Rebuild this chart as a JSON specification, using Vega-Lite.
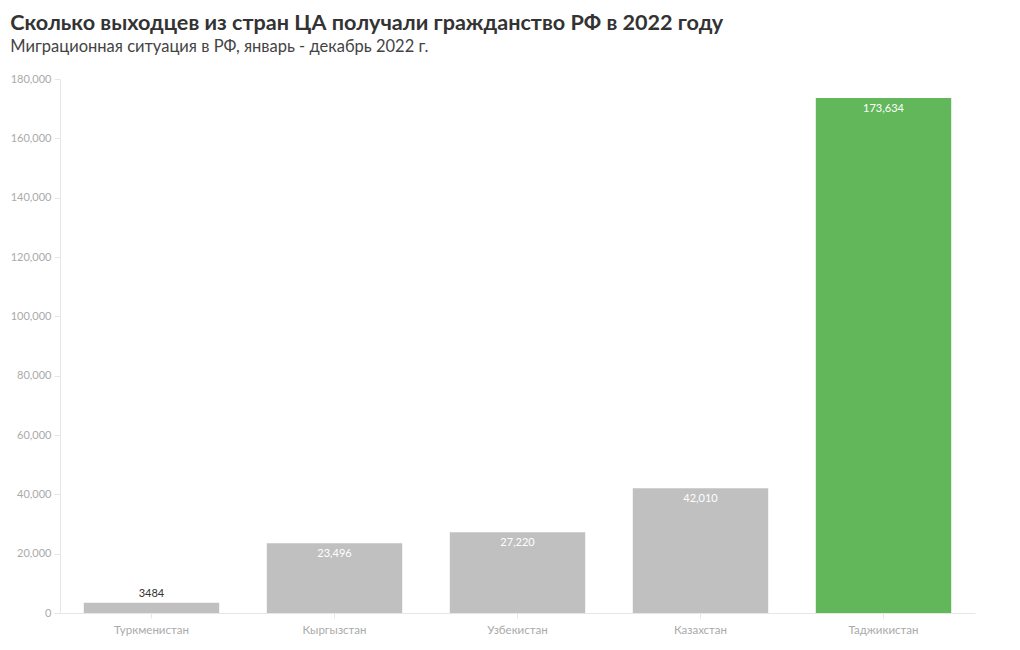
{
  "$schema": "https://vega.github.io/schema/vega-lite/v6.json",
  "width": 1020,
  "height": 650,
  "autosize": {"type": "fit", "contains": "padding"},
  "padding": {"left": 10, "top": 12, "right": 45, "bottom": 14},
  "background": "white",
  "config": {
    "font": "Lato",
    "view": {"stroke": null}
  },
  "title": {
    "text": "Сколько выходцев из стран ЦА получали гражданство РФ в 2022 году",
    "subtitle": "Миграционная ситуация в РФ, январь - декабрь 2022 г.",
    "anchor": "start",
    "frame": "bounds",
    "font": "Lato",
    "fontSize": 21.6,
    "fontWeight": "bold",
    "color": "#333333",
    "subtitleFont": "Lato",
    "subtitleFontSize": 16.5,
    "subtitleColor": "#444444",
    "subtitlePadding": 4,
    "offset": 18
  },
  "data": {
    "values": [
      {"country": "Туркменистан", "value": 3484, "hl": "no"},
      {"country": "Кыргызстан", "value": 23496, "hl": "no"},
      {"country": "Узбекистан", "value": 27220, "hl": "no"},
      {"country": "Казахстан", "value": 42010, "hl": "no"},
      {"country": "Таджикистан", "value": 173634, "hl": "yes"}
    ]
  },
  "encoding": {
    "x": {
      "field": "country",
      "type": "nominal",
      "sort": null,
      "scale": {"paddingInner": 0.26, "paddingOuter": 0.13},
      "axis": {
        "title": null,
        "labelAngle": 0,
        "labelColor": "#aaaaaa",
        "labelFontSize": 11.5,
        "labelPadding": 6,
        "domainColor": "#e6e6e6",
        "tickColor": "#e6e6e6",
        "tickSize": 5
      }
    },
    "y": {
      "field": "value",
      "type": "quantitative",
      "scale": {"domain": [0, 180000], "nice": false},
      "axis": {
        "title": null,
        "values": [0, 20000, 40000, 60000, 80000, 100000, 120000, 140000, 160000, 180000],
        "format": ",d",
        "grid": false,
        "labelColor": "#aaaaaa",
        "labelFontSize": 11,
        "domainColor": "#e6e6e6",
        "tickColor": "#e6e6e6",
        "tickSize": 6,
        "labelPadding": 3
      }
    }
  },
  "layer": [
    {
      "mark": {"type": "bar"},
      "encoding": {
        "color": {
          "field": "hl",
          "type": "nominal",
          "scale": {"domain": ["no", "yes"], "range": ["#c0c0c0", "#62b75a"]},
          "legend": null
        }
      }
    },
    {
      "transform": [{"filter": "datum.value < 10000"}],
      "mark": {"type": "text", "baseline": "bottom", "dy": -4, "fontSize": 11, "color": "#333333"},
      "encoding": {"text": {"field": "value", "type": "quantitative", "format": "d"}}
    },
    {
      "transform": [{"filter": "datum.value >= 10000"}],
      "mark": {"type": "text", "baseline": "top", "dy": 5, "fontSize": 11, "color": "white"},
      "encoding": {"text": {"field": "value", "type": "quantitative", "format": ",d"}}
    }
  ]
}
